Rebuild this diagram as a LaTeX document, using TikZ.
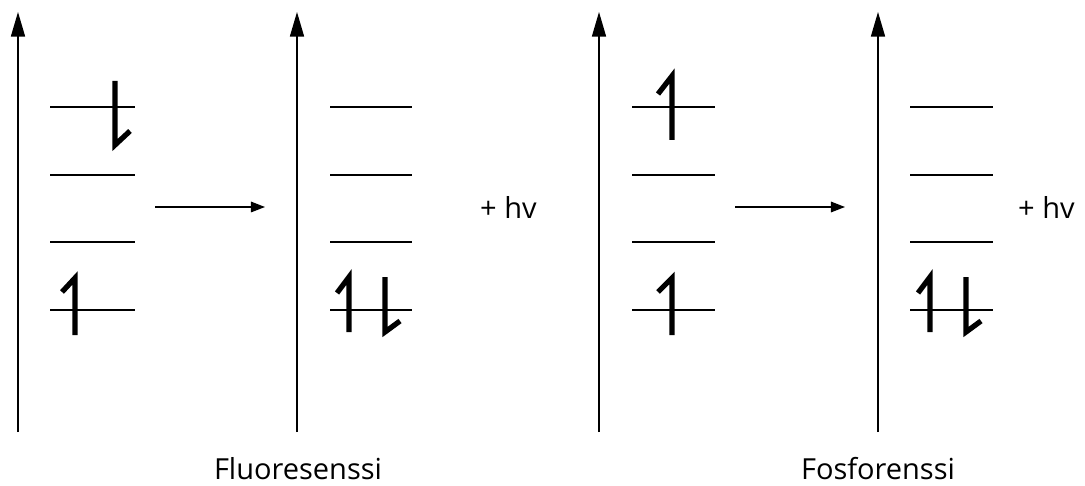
\documentclass[tikz,border=0pt]{standalone}
\usepackage{fontspec}
\setmainfont{Open Sans}
\usetikzlibrary{arrows.meta}

\begin{document}
\begin{tikzpicture}[x=0.02cm, y=-0.02cm,
		axis/.style={thick, -{Triangle[length=14pt, width=8pt]}},
		level/.style={line width=0.75pt},
		transarr/.style={line width=0.8pt, -{Triangle[length=8pt, width=6pt]}},
		spin/.style={line width=3pt, line join=miter},
		lbl/.style={font=\fontsize{16.5}{19}\selectfont},
	]

	\useasboundingbox (0,0) rectangle (1085,486);

	% energy axes
	\foreach \name/\x in {ax1/18, ax2/297, ax3/599, ax4/878} {
		\coordinate (\name b) at (\x,432);
		\coordinate (\name t) at (\x,12);
		\draw[axis] (\name b) -- (\name t);
	}

	% energy levels
	\foreach \name/\xl/\xr in {A/50/135, B/330/412, C/632/715, D/910/993} {
		\foreach \i/\y in {1/107, 2/175, 3/242, 4/310} {
			\coordinate (\name\i l) at (\xl,\y);
			\coordinate (\name\i r) at (\xr,\y);
			\draw[level] (\name\i l) -- (\name\i r);
		}
	}

	% electrons
	\draw[spin] (115,81) -- (115,145) -- (130,131);    % fluoresenssi, upper
	\draw[spin] (62,292) -- (75,278) -- (75,335);       % fluoresenssi, lower
	\draw[spin] (337,293) -- (349,277) -- (349,332);
	\draw[spin] (385,277) -- (385,332) -- (400,321);
	\draw[spin] (658,94) -- (672,76) -- (672,140);      % fosforenssi, upper
	\draw[spin] (658,292) -- (672,278) -- (672,335);
	\draw[spin] (918,293) -- (930,277) -- (930,332);
	\draw[spin] (966,277) -- (966,332) -- (981,321);

	% transitions
	\coordinate (s1) at (155,207);
	\coordinate (e1) at (265,207);
	\draw[transarr] (s1) -- (e1);
	\coordinate (s2) at (735,207);
	\coordinate (e2) at (845,207);
	\draw[transarr] (s2) -- (e2);

	\node[lbl, anchor=west] (hv1) at (474,207) {+ hv};
	\node[lbl, anchor=west] (hv2) at (1012,207) {+ hv};

	\node[lbl] (fluo) at (298,469) {Fluoresenssi};
	\node[lbl] (fosf) at (878,469) {Fosforenssi};

\end{tikzpicture}
\end{document}
